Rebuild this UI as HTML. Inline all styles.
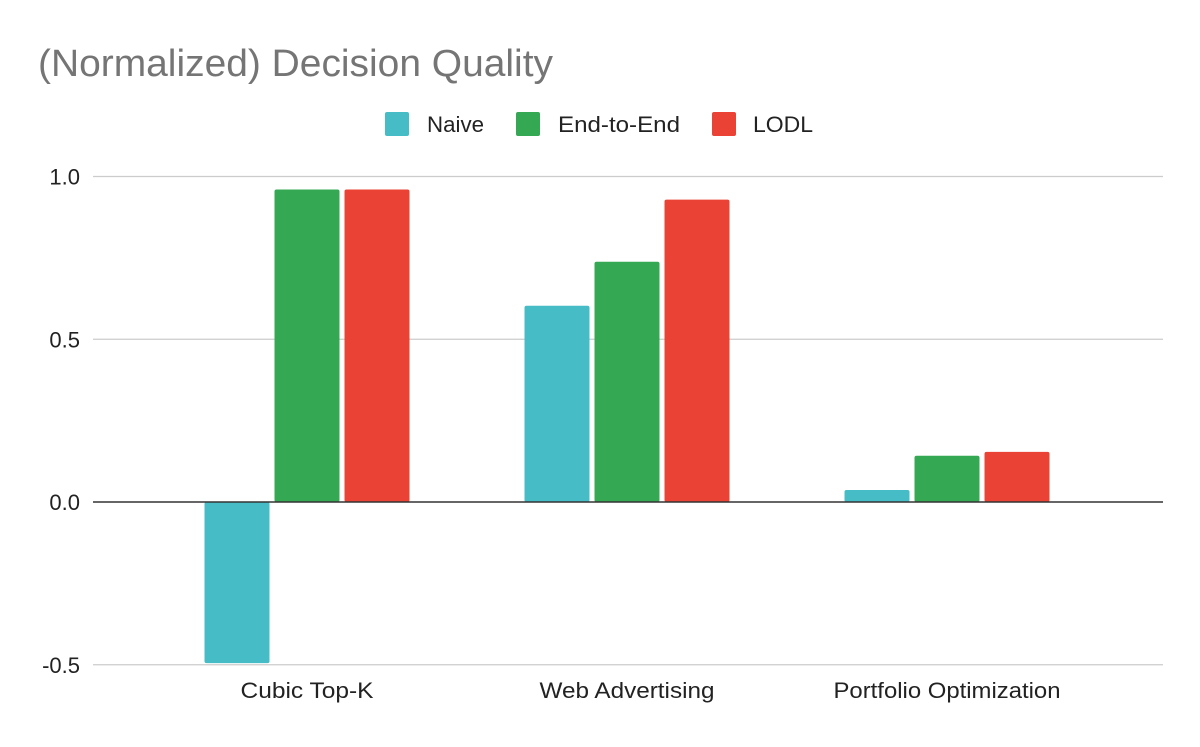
<!DOCTYPE html>
<html><head><meta charset="utf-8"><style>
body{margin:0;background:#fff;}
svg text{font-family:"Liberation Sans",Arial,sans-serif;}
</style></head><body>
<svg id="chart" width="1200" height="742" xmlns="http://www.w3.org/2000/svg">
<rect width="1200" height="742" fill="#fff"/>
<text x="38" y="76" font-size="38" fill="#757575" textLength="515" lengthAdjust="spacingAndGlyphs">(Normalized) Decision Quality</text>
<g>
<rect x="385" y="112" width="24" height="24" rx="2" fill="#46BDC6"/>
<text x="427" y="132" font-size="22" fill="#222" textLength="57" lengthAdjust="spacingAndGlyphs">Naive</text>
<rect x="516" y="112" width="24" height="24" rx="2" fill="#34A853"/>
<text x="558" y="132" font-size="22" fill="#222" textLength="122" lengthAdjust="spacingAndGlyphs">End-to-End</text>
<rect x="712" y="112" width="24" height="24" rx="2" fill="#EA4335"/>
<text x="753" y="132" font-size="22" fill="#222" textLength="60" lengthAdjust="spacingAndGlyphs">LODL</text>
</g>
<g id="grid"></g><g id="bars"></g><g id="axis"></g>
</svg>
<script>
const categories=["Cubic Top-K","Web Advertising","Portfolio Optimization"];
const categoryWidths=[133,175,227];
const seriesNames=["Naive","End-to-End","LODL"];
const naive=[-0.495,0.603,0.037];
const endToEnd=[0.96,0.738,0.142];
const lodl=[0.96,0.929,0.154];
const yTicks=[-0.5,0,0.5,1.0];
const yTickLabels=["-0.5","0.0","0.5","1.0"];
const colors=["#46BDC6","#34A853","#EA4335"];
const NS="http://www.w3.org/2000/svg";
const x0=93,x1=1163;
function y(v){return 502-v*325.5;}
function bandCenter(i){return 307+i*320;}
function mk(t,a,p){const e=document.createElementNS(NS,t);for(const k in a)e.setAttribute(k,a[k]);p.appendChild(e);return e;}
const grid=document.getElementById('grid'),bars=document.getElementById('bars'),axis=document.getElementById('axis');
yTicks.forEach((v,i)=>{
 if(v!==0){const l=mk('line',{x1:x0,x2:x1,y1:y(v),y2:y(v),stroke:'#ccc','stroke-width':1.3},grid);
 
 }
 const t=mk('text',{x:80,y:y(v)+8,'font-size':22,fill:'#222','text-anchor':'end'},axis);
 t.textContent=yTickLabels[i];
 
 
});
const series=[naive,endToEnd,lodl];
const bw=65,gap=5;
categories.forEach((c,i)=>{
 const cx=bandCenter(i);
 series.forEach((s,j)=>{
  const bx=cx-bw*1.5-gap+j*(bw+gap);
  const v=s[i];const top=Math.min(y(v),y(0)),h=Math.abs(y(v)-y(0));
  const r=mk('rect',{x:bx,y:top,width:bw,height:h,rx:2,fill:colors[j]},bars);
  
  
 });
 const t=mk('text',{x:cx-categoryWidths[i]/2,y:698,'font-size':22,fill:'#222',textLength:categoryWidths[i],lengthAdjust:'spacingAndGlyphs'},axis);
 t.textContent=c;
 
 
});
const z=mk('line',{x1:x0,x2:x1,y1:y(0),y2:y(0),stroke:'#333','stroke-width':1.5},axis);


</script>
</body></html>
